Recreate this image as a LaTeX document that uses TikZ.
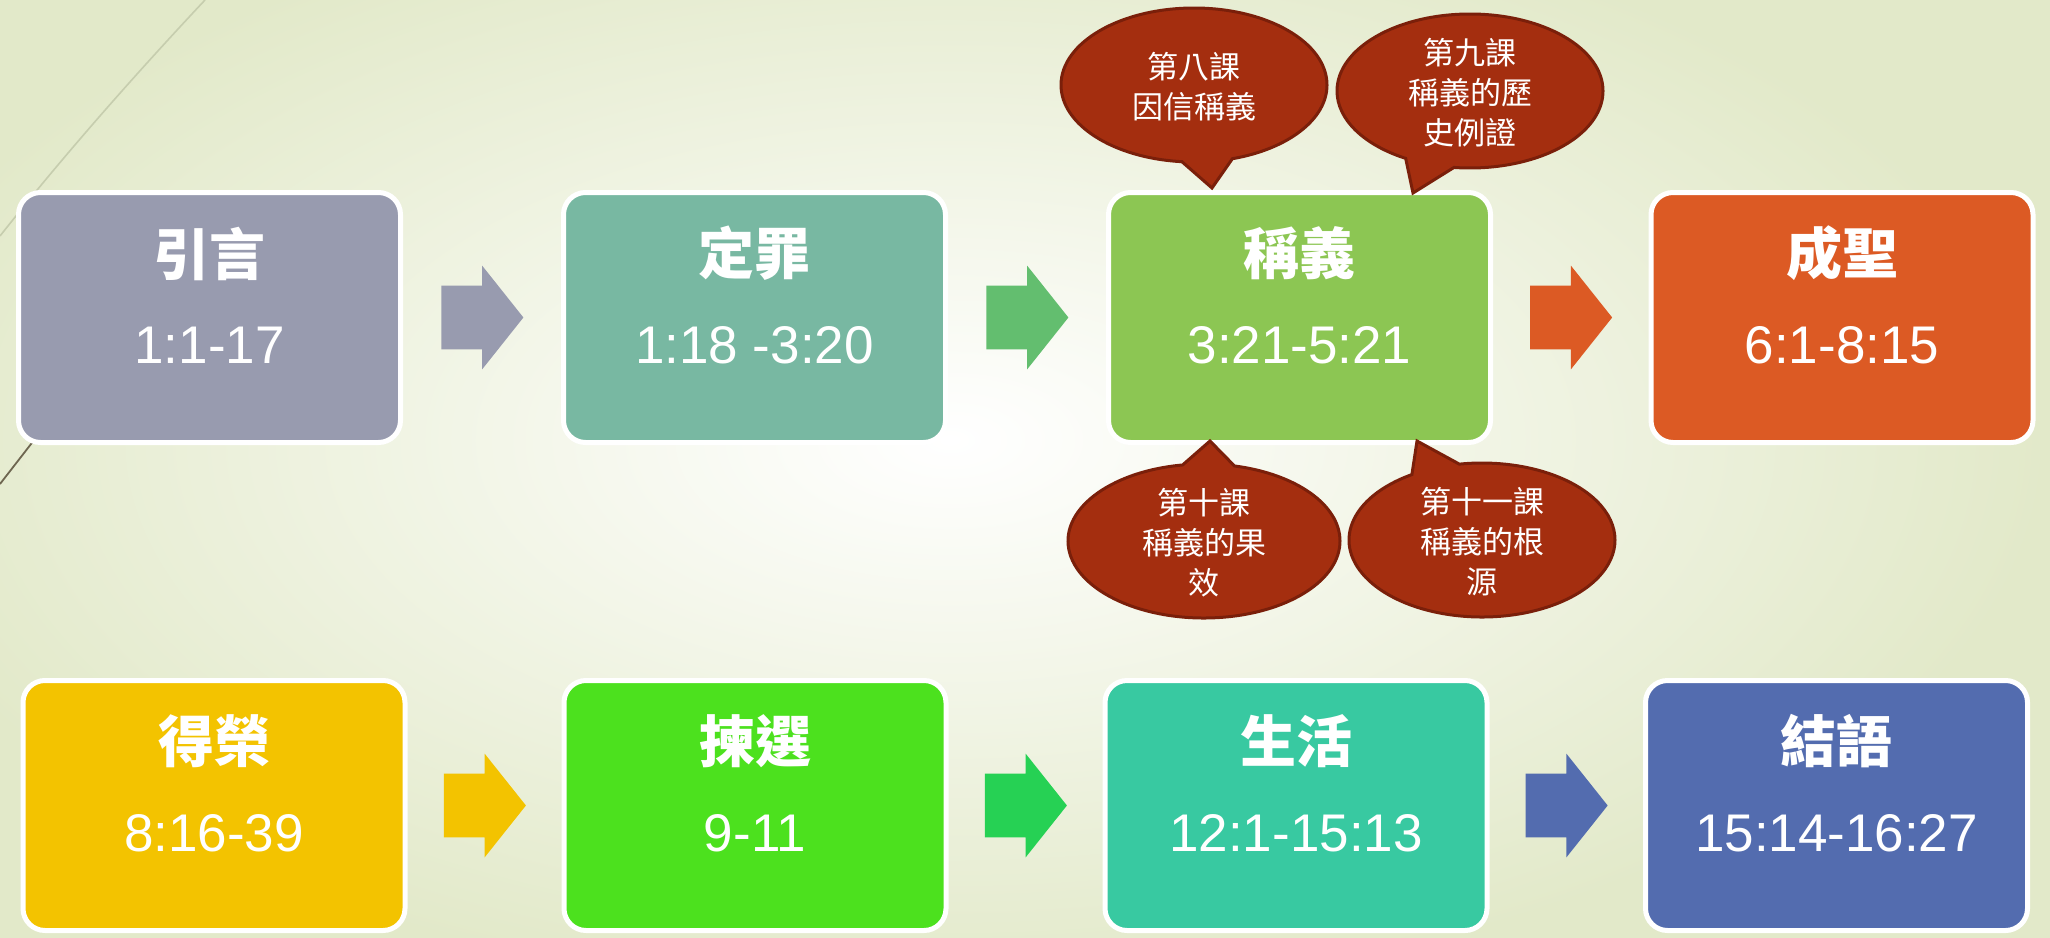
\documentclass[tikz,border=0pt]{standalone}
\usepackage{fontspec}
\setmainfont{Liberation Sans}
\newfontfamily\cjk{Noto Sans CJK TC}
\usetikzlibrary{shapes.arrows,shapes.callouts}
\definecolor{bgedge}{HTML}{E2E9C9}
\definecolor{cA}{HTML}{989BAF}
\definecolor{cB}{HTML}{78B8A2}
\definecolor{cBa}{HTML}{63BE6F}
\definecolor{cC}{HTML}{8CC653}
\definecolor{cD}{HTML}{DC5A24}
\definecolor{cE}{HTML}{F3C300}
\definecolor{cF}{HTML}{4CE11E}
\definecolor{cFa}{HTML}{26D154}
\definecolor{cG}{HTML}{38C9A1}
\definecolor{cH}{HTML}{536CAF}
\definecolor{bubfill}{HTML}{A42E0F}
\definecolor{bubline}{HTML}{7A1F0A}
\definecolor{faintline}{HTML}{C6CDAE}
\definecolor{darkline}{HTML}{6E6650}
\begin{document}
\begin{tikzpicture}[x=0.5pt,y=-0.5pt,
  stagebox/.style={rectangle, rounded corners=11pt, draw=white, line width=2.5pt,
    minimum width=191pt, minimum height=125pt, inner sep=0pt},
  titletext/.style={text=white, font=\fontsize{28}{32}\selectfont\cjk\bfseries, inner sep=0pt},
  numtext/.style={text=white, font=\fontsize{26.5}{30}\selectfont, inner sep=0pt, anchor=base},
  blockarrow/.style={single arrow, draw=none, inner xsep=0pt, inner ysep=15.75pt,
    minimum height=41pt, single arrow head extend=10pt, single arrow tip angle=103,
    anchor=tail, xshift=-20.5pt},
  bubble/.style={ellipse callout, fill=bubfill, draw=bubline, line width=1.5pt,
    minimum width=133pt, minimum height=77pt, inner sep=0pt, callout pointer arc=22},
  bubtext/.style={text=white, font=\fontsize{15.5}{20}\selectfont\cjk, align=center, inner sep=0pt}
]
\useasboundingbox (0,0) rectangle (2050,937);
\shade[inner color=white, outer color=bgedge] (-150,-120) rectangle (2050,1000);
\draw[faintline, line width=0.8pt] (205,0) .. controls (130,80) and (60,160) .. (0,236);
\draw[darkline, line width=0.9pt] (45,426) -- (0,484);

% row 1
\node[stagebox, fill=cA] (s1) at (209.5,317.5) {};
\node[stagebox, fill=cB] (s2) at (754.5,317.5) {};
\node[stagebox, fill=cC] (s3) at (1299.5,317.5) {};
\node[stagebox, fill=cD] (s4) at (1842,317.5) {};
% row 2
\node[stagebox, fill=cE] (s5) at (214,805.5) {};
\node[stagebox, fill=cF] (s6) at (755,805.5) {};
\node[stagebox, fill=cG] (s7) at (1296,805.5) {};
\node[stagebox, fill=cH] (s8) at (1836.5,805.5) {};

\foreach \n/\t/\r in {s1/引言/1:1-17, s2/定罪/1:18 -3:20, s3/稱義/3:21-5:21, s4/成聖/6:1-8:15,
  s5/得榮/8:16-39, s6/揀選/9-11, s7/生活/12:1-15:13, s8/結語/15:14-16:27}{
  \node[titletext] (\n t) at ([yshift=32pt]\n.center) {\t};
  \node[numtext] (\n n) at ([yshift=-22.75pt]\n.center) {\r};
}

% arrows
\path (s1) -- (s2) node[midway, blockarrow, fill=cA] (a1) {};
\path (s2) -- (s3) node[midway, blockarrow, fill=cBa] (a2) {};
\path (s3) -- (s4) node[midway, blockarrow, fill=cD] (a3) {};
\path (s5) -- (s6) node[midway, blockarrow, fill=cE] (a4) {};
\path (s6) -- (s7) node[midway, blockarrow, fill=cFa] (a5) {};
\path (s7) -- (s8) node[midway, blockarrow, fill=cH] (a6) {};

% bubble tips
\coordinate (t1) at (1212,188);
\coordinate (t2) at (1413,193);
\coordinate (t3) at (1210,441);
\coordinate (t4) at (1417,441);

\node[bubble, callout absolute pointer={(t1)}] (b1) at (1194,85) {};
\node[bubble, callout absolute pointer={(t2)}] (b2) at (1470,91) {};
\node[bubble, callout absolute pointer={(t3)}, minimum width=136pt] (b3) at (1204,541) {};
\node[bubble, callout absolute pointer={(t4)}] (b4) at (1482,540) {};

\node[bubtext] (b1t) at ([yshift=-1pt]b1.center) {第八課\\因信稱義};
\node[bubtext] (b2t) at ([yshift=-1pt]b2.center) {第九課\\稱義的歷\\史例證};
\node[bubtext] (b3t) at ([yshift=-1pt]b3.center) {第十課\\稱義的果\\效};
\node[bubtext] (b4t) at ([yshift=-1pt]b4.center) {第十一課\\稱義的根\\源};
\end{tikzpicture}
\end{document}
